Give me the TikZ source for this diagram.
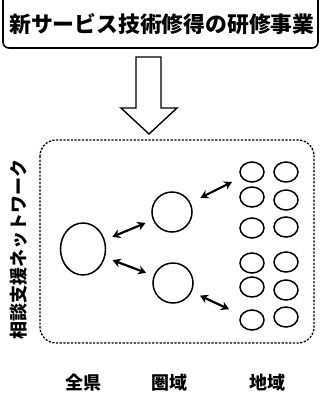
\documentclass[tikz,border=0pt]{standalone}
\usepackage{fontspec}
\newfontfamily\jp{Noto Sans CJK JP}
\usetikzlibrary{arrows.meta,shapes.geometric}
\begin{document}
\begin{tikzpicture}[x=1pt,y=-1pt,
  circ/.style={draw,line width=1.5pt,ellipse,inner sep=0pt},
  biarrow/.style={line width=2.2pt,{Stealth[length=8pt,width=9pt]}-{Stealth[length=8pt,width=9pt]}},
  lbl/.style={font=\jp\bfseries\fontsize{18}{18}\selectfont,inner sep=0pt}]
\useasboundingbox (0,0) rectangle (321,400);
% title box
\draw[line width=1.6pt,rounded corners=6pt] (3,-10) rectangle (318,48);
\node[font=\jp\bfseries\fontsize{21.8}{21.8}\selectfont,inner sep=0pt] (title) at (162,24) {新サービス技術修得の研修事業};
% block arrow
\draw[line width=1.4pt,line join=miter] (136,57) -- (161,57) -- (161,108) -- (177,108) -- (149,134) -- (121,108) -- (136,108) -- cycle;
% dashed network box
\draw[line width=1.3pt,dash pattern=on 2.2pt off 1.5pt,rounded corners=16pt] (40,140) rectangle (314,343);
\node[lbl,rotate=90] (net) at (19,249) {相談支援ネットワーク};
% circles
\node[circ,minimum width=45pt,minimum height=52pt] (big) at (83,249) {};
\node[circ,minimum size=40pt,circle] (mt) at (172,212) {};
\node[circ,minimum size=40pt,circle] (mb) at (173,283) {};
\foreach \i/\y in {1/172,2/197,3/228,4/263,5/287,6/320}{
  \node[circ,minimum width=24pt,minimum height=20pt] (a\i) at (252,\y) {};
}
\foreach \i/\y in {1/172,2/200,3/227,4/262,5/290,6/317}{
  \node[circ,minimum width=24pt,minimum height=20pt] (b\i) at (286,\y) {};
}
% arrows
\draw[biarrow,shorten <=8pt,shorten >=8pt] (big) -- (mt);
\draw[biarrow,shorten <=8pt,shorten >=8pt] (big) -- (mb);
\draw[biarrow,shorten <=11pt,shorten >=10pt] (mt) -- (a1);
\draw[biarrow,shorten <=9pt,shorten >=13pt] (mb) -- (a6);
% bottom labels
\node[lbl] (zenken) at (84,383) {全県};
\node[lbl] (keniki) at (169,383) {圏域};
\node[lbl] (chiiki) at (267,383) {地域};
\end{tikzpicture}
\end{document}
